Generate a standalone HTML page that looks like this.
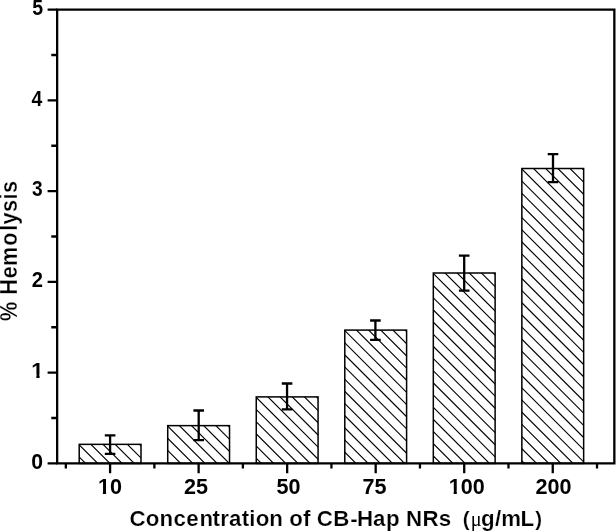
<!DOCTYPE html>
<html><head><meta charset="utf-8"><style>
html,body{margin:0;padding:0;background:#fff;}
svg{display:block;will-change:transform;}
.t{font-family:"Liberation Sans",sans-serif;font-weight:bold;font-size:21.6px;fill:#000;}
.xl{font-size:22.2px;}
.xt{font-size:22.3px;stroke:#fff;stroke-width:0.2px;}
.yt{font-size:21.6px;stroke:#fff;stroke-width:0.25px;}
.pr{font-size:20.4px;}
.mu{font-family:"Liberation Serif",serif;font-weight:normal;font-size:20.3px;stroke:none;}
</style></head><body>
<svg width="616" height="532" viewBox="0 0 616 532">
<rect width="616" height="532" fill="#fff"/>
<defs><clipPath id="c0"><rect x="79.20" y="444.35" width="61.80" height="19.05"/></clipPath><clipPath id="c1"><rect x="167.73" y="425.64" width="61.80" height="37.76"/></clipPath><clipPath id="c2"><rect x="256.26" y="396.90" width="61.80" height="66.50"/></clipPath><clipPath id="c3"><rect x="344.79" y="330.10" width="61.80" height="133.30"/></clipPath><clipPath id="c4"><rect x="433.32" y="273.00" width="61.80" height="190.40"/></clipPath><clipPath id="c5"><rect x="521.85" y="168.50" width="61.80" height="294.90"/></clipPath><clipPath id="f_y1"><path clip-rule="evenodd" d="M-10 -10H700V600H-10ZM31.18 374.39H36.36V380.79H31.18ZM39.60 374.39H43.90V380.79H39.60Z"/></clipPath><clipPath id="f_x0"><path clip-rule="evenodd" d="M-10 -10H700V600H-10ZM97.81 490.23H102.89V496.70H97.81ZM106.06 490.23H110.26V496.70H106.06Z"/></clipPath><clipPath id="f_x4"><path clip-rule="evenodd" d="M-10 -10H700V600H-10ZM448.56 490.23H453.64V496.70H448.56ZM456.81 490.23H461.01V496.70H456.81Z"/></clipPath></defs>
<path clip-path="url(#c0)" d="M59.20 351.89L161.00 453.69M59.20 364.05L161.00 465.85M59.20 376.21L161.00 478.01M59.20 388.37L161.00 490.17M59.20 400.53L161.00 502.33M59.20 412.69L161.00 514.49M59.20 424.85L161.00 526.65M59.20 437.01L161.00 538.81M59.20 449.17L161.00 550.97" stroke="#000" stroke-width="1.15" fill="none"/>
<rect x="79.20" y="444.35" width="61.80" height="19.05" fill="none" stroke="#000" stroke-width="1.5"/>
<path d="M110.10 435.30V453.90M104.80 435.30H115.40M104.80 453.90H115.40" stroke="#000" stroke-width="2.3" fill="none"/>
<path clip-path="url(#c1)" d="M147.73 333.18L249.53 434.98M147.73 345.34L249.53 447.14M147.73 357.50L249.53 459.30M147.73 369.66L249.53 471.46M147.73 381.82L249.53 483.62M147.73 393.98L249.53 495.78M147.73 406.14L249.53 507.94M147.73 418.30L249.53 520.10M147.73 430.46L249.53 532.26M147.73 442.62L249.53 544.42M147.73 454.78L249.53 556.58" stroke="#000" stroke-width="1.15" fill="none"/>
<rect x="167.73" y="425.64" width="61.80" height="37.76" fill="none" stroke="#000" stroke-width="1.5"/>
<path d="M198.70 410.50V440.10M193.40 410.50H204.00M193.40 440.10H204.00" stroke="#000" stroke-width="2.3" fill="none"/>
<path clip-path="url(#c2)" d="M236.26 304.44L338.06 406.24M236.26 316.60L338.06 418.40M236.26 328.76L338.06 430.56M236.26 340.92L338.06 442.72M236.26 353.08L338.06 454.88M236.26 365.24L338.06 467.04M236.26 377.40L338.06 479.20M236.26 389.56L338.06 491.36M236.26 401.72L338.06 503.52M236.26 413.88L338.06 515.68M236.26 426.04L338.06 527.84M236.26 438.20L338.06 540.00M236.26 450.36L338.06 552.16" stroke="#000" stroke-width="1.15" fill="none"/>
<rect x="256.26" y="396.90" width="61.80" height="66.50" fill="none" stroke="#000" stroke-width="1.5"/>
<path d="M287.05 383.50V409.30M281.75 383.50H292.35M281.75 409.30H292.35" stroke="#000" stroke-width="2.3" fill="none"/>
<path clip-path="url(#c3)" d="M324.79 237.64L426.59 339.44M324.79 249.80L426.59 351.60M324.79 261.96L426.59 363.76M324.79 274.12L426.59 375.92M324.79 286.28L426.59 388.08M324.79 298.44L426.59 400.24M324.79 310.60L426.59 412.40M324.79 322.76L426.59 424.56M324.79 334.92L426.59 436.72M324.79 347.08L426.59 448.88M324.79 359.24L426.59 461.04M324.79 371.40L426.59 473.20M324.79 383.56L426.59 485.36M324.79 395.72L426.59 497.52M324.79 407.88L426.59 509.68M324.79 420.04L426.59 521.84M324.79 432.20L426.59 534.00M324.79 444.36L426.59 546.16" stroke="#000" stroke-width="1.15" fill="none"/>
<rect x="344.79" y="330.10" width="61.80" height="133.30" fill="none" stroke="#000" stroke-width="1.5"/>
<path d="M375.40 320.50V339.80M370.10 320.50H380.70M370.10 339.80H380.70" stroke="#000" stroke-width="2.3" fill="none"/>
<path clip-path="url(#c4)" d="M413.32 180.54L515.12 282.34M413.32 192.70L515.12 294.50M413.32 204.86L515.12 306.66M413.32 217.02L515.12 318.82M413.32 229.18L515.12 330.98M413.32 241.34L515.12 343.14M413.32 253.50L515.12 355.30M413.32 265.66L515.12 367.46M413.32 277.82L515.12 379.62M413.32 289.98L515.12 391.78M413.32 302.14L515.12 403.94M413.32 314.30L515.12 416.10M413.32 326.46L515.12 428.26M413.32 338.62L515.12 440.42M413.32 350.78L515.12 452.58M413.32 362.94L515.12 464.74M413.32 375.10L515.12 476.90M413.32 387.26L515.12 489.06M413.32 399.42L515.12 501.22M413.32 411.58L515.12 513.38M413.32 423.74L515.12 525.54M413.32 435.90L515.12 537.70M413.32 448.06L515.12 549.86" stroke="#000" stroke-width="1.15" fill="none"/>
<rect x="433.32" y="273.00" width="61.80" height="190.40" fill="none" stroke="#000" stroke-width="1.5"/>
<path d="M464.20 255.60V290.60M458.90 255.60H469.50M458.90 290.60H469.50" stroke="#000" stroke-width="2.3" fill="none"/>
<path clip-path="url(#c5)" d="M501.85 76.04L603.65 177.84M501.85 88.20L603.65 190.00M501.85 100.36L603.65 202.16M501.85 112.52L603.65 214.32M501.85 124.68L603.65 226.48M501.85 136.84L603.65 238.64M501.85 149.00L603.65 250.80M501.85 161.16L603.65 262.96M501.85 173.32L603.65 275.12M501.85 185.48L603.65 287.28M501.85 197.64L603.65 299.44M501.85 209.80L603.65 311.60M501.85 221.96L603.65 323.76M501.85 234.12L603.65 335.92M501.85 246.28L603.65 348.08M501.85 258.44L603.65 360.24M501.85 270.60L603.65 372.40M501.85 282.76L603.65 384.56M501.85 294.92L603.65 396.72M501.85 307.08L603.65 408.88M501.85 319.24L603.65 421.04M501.85 331.40L603.65 433.20M501.85 343.56L603.65 445.36M501.85 355.72L603.65 457.52M501.85 367.88L603.65 469.68M501.85 380.04L603.65 481.84M501.85 392.20L603.65 494.00M501.85 404.36L603.65 506.16M501.85 416.52L603.65 518.32M501.85 428.68L603.65 530.48M501.85 440.84L603.65 542.64M501.85 453.00L603.65 554.80" stroke="#000" stroke-width="1.15" fill="none"/>
<rect x="521.85" y="168.50" width="61.80" height="294.90" fill="none" stroke="#000" stroke-width="1.5"/>
<path d="M553.00 154.20V182.20M547.70 154.20H558.30M547.70 182.20H558.30" stroke="#000" stroke-width="2.3" fill="none"/>
<path d="M57.15 9.6H614.35V463.4H57.15Z" fill="none" stroke="#000" stroke-width="2.3" stroke-linejoin="miter"/>
<path d="M47.6 463.40H57.15M47.6 372.64H57.15M47.6 281.88H57.15M47.6 191.12H57.15M47.6 100.36H57.15M47.6 9.60H57.15M51.3 418.02H57.15M51.3 327.26H57.15M51.3 236.50H57.15M51.3 145.74H57.15M51.3 54.98H57.15M110.10 463.4V473.3M198.63 463.4V473.3M287.16 463.4V473.3M375.69 463.4V473.3M464.22 463.4V473.3M552.75 463.4V473.3M65.83 463.4V468.5M154.37 463.4V468.5M242.89 463.4V468.5M331.43 463.4V468.5M419.95 463.4V468.5M508.48 463.4V468.5M597.02 463.4V468.5" stroke="#000" stroke-width="2.3" fill="none"/>
<text transform="translate(31.36 468.55) scale(0.9832 1)" class="t">0</text>
<g clip-path="url(#f_y1)"><text transform="translate(31.28 377.79) scale(1.0263 1)" class="t">1</text></g>
<text transform="translate(31.80 287.03) scale(0.9328 1)" class="t">2</text>
<text transform="translate(32.06 196.27) scale(0.8848 1)" class="t">3</text>
<text transform="translate(31.61 105.51) scale(0.8989 1)" class="t">4</text>
<text transform="translate(32.20 14.75) scale(0.9026 1)" class="t">5</text>
<g clip-path="url(#f_x0)"><text transform="translate(97.95 493.7) scale(0.9730 1)" class="t xl">10</text></g>
<text transform="translate(183.97 493.7) scale(0.9730 1)" class="t xl">25</text>
<text transform="translate(276.45 493.7) scale(0.9730 1)" class="t xl">50</text>
<text transform="translate(362.50 493.7) scale(0.9730 1)" class="t xl">75</text>
<g clip-path="url(#f_x4)"><text transform="translate(448.70 493.7) scale(0.9730 1)" class="t xl">100</text></g>
<text transform="translate(535.50 493.7) scale(0.9730 1)" class="t xl">200</text>
<text x="129.40 145.75 159.62 173.49 186.24 199.45 212.54 220.24 229.10 241.67 249.27 255.64 269.15 282.95 289.33 303.01 310.49 316.75 333.36 350.25 357.00 372.95 385.91 399.70 406.05 422.48 438.81 450.97 456.91 462.86 470.75 480.98 495.00 501.19 520.49 535.30" y="525.9" class="t xt">Concentration of CB-Hap NRs&#160; <tspan class="pr">(</tspan><tspan class="mu">&#956;</tspan>g/mL<tspan class="pr">)</tspan></text>
<text transform="translate(16.8 320.2) rotate(-90) scale(1 1.077)" x="-0.84 18.86 25.36 42.04 54.15 74.50 89.56 95.82 108.16 120.66 127.26" y="0" class="t yt">% Hemolysis</text>
</svg></body></html>
